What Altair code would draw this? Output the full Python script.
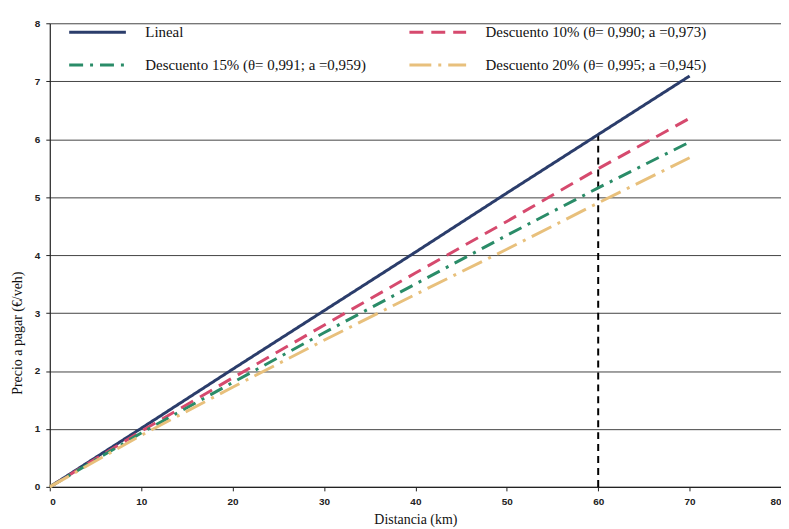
import altair as alt
import pandas as pd

dist = [0, 10, 20, 30, 40, 50, 60, 70]
lineal = [0, 1.01, 2.03, 3.04, 4.05, 5.07, 6.08, 7.09]
desc10 = [0, 0.96, 1.88, 2.79, 3.69, 4.58, 5.49, 6.36]
desc15 = [0, 0.93, 1.80, 2.66, 3.50, 4.34, 5.16, 5.95]
desc20 = [0, 0.89, 1.72, 2.53, 3.32, 4.10, 4.90, 5.68]

names = [
    "Lineal",
    "Descuento 10% (θ= 0,990; a =0,973)",
    "Descuento 15% (θ= 0,991; a =0,959)",
    "Descuento 20% (θ= 0,995; a =0,945)",
]
colors = ["#2b3d6b", "#d64a6e", "#2a8c68", "#e8c07c"]
dashes = [[1, 0], [14, 8], [14, 7, 3, 7], [22, 7, 3, 7]]
legend_order = [names[0], names[2], names[1], names[3]]

ref_x = [60]
ref_y = [6.08]

rows = []
for n, s in zip(names, [lineal, desc10, desc15, desc20]):
    for d, v in zip(dist, s):
        rows.append({"Distancia": d, "Precio": v, "Serie": n})
df = pd.DataFrame(rows)
ref = pd.DataFrame({"x": ref_x, "y0": [0], "y1": ref_y})

xscale = alt.Scale(domain=[0, 80], nice=False)
yscale = alt.Scale(domain=[0, 8], nice=False)

lines = alt.Chart(df).mark_line(strokeWidth=3).encode(
    x=alt.X("Distancia:Q", scale=xscale,
            axis=alt.Axis(title="Distancia (km)", values=list(range(0, 81, 10)), grid=False)),
    y=alt.Y("Precio:Q", scale=yscale,
            axis=alt.Axis(title="Precio a pagar (€/veh)", values=list(range(0, 9)), grid=True,
                          format="d", titleY=311, titleX=-25)),
    color=alt.Color("Serie:N", sort=legend_order,
                    scale=alt.Scale(domain=legend_order,
                                    range=[colors[0], colors[2], colors[1], colors[3]]),
                    legend=alt.Legend(title=None, orient="none", legendX=18, legendY=1,
                                      columns=2, symbolType="stroke", symbolSize=3249,
                                      symbolStrokeWidth=3, labelFont="Liberation Serif",
                                      labelFontSize=15, labelColor="#111", labelOffset=18,
                                      clipHeight=16, rowPadding=17, columnPadding=42,
                                      labelLimit=400)),
    strokeDash=alt.StrokeDash("Serie:N", sort=legend_order,
                              scale=alt.Scale(domain=legend_order,
                                              range=[dashes[0], dashes[2], dashes[1], dashes[3]]),
                              legend=None),
)

rule = alt.Chart(ref).mark_rule(color="black", strokeWidth=2, strokeDash=[7, 5]).encode(
    x=alt.X("x:Q", scale=xscale),
    y=alt.Y("y0:Q", scale=yscale),
    y2="y1:Q",
)

chart = alt.layer(rule, lines).properties(
    width=735, height=466,
    autosize=alt.AutoSizeParams(type="none"),
    padding={"left": 42, "top": 14, "right": 0, "bottom": 43},
).configure_view(stroke=None).configure_axis(
    domainColor="#222", domainWidth=1.2, tickColor="#222", tickSize=4,
    gridColor="#444", gridWidth=1,
    labelFont="Liberation Sans", labelFontWeight="bold", labelFontSize=10, labelColor="#222",
    titleFont="Liberation Serif", titleFontSize=14, titleFontWeight="normal", titleColor="#111",
).configure_axisX(labelPadding=6, titlePadding=6).configure_axisY(labelPadding=6)

chart.save("out.html", embed_options={"renderer": "svg", "actions": False})
